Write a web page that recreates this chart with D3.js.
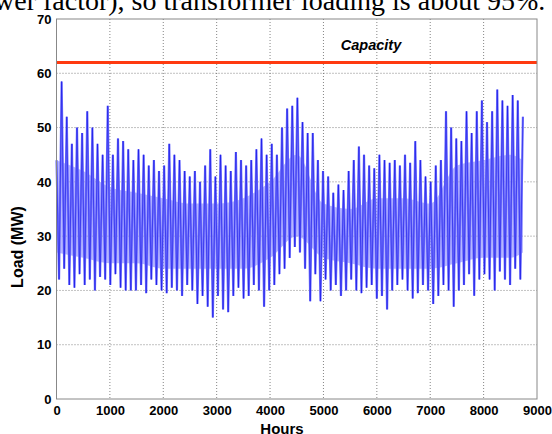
<!DOCTYPE html>
<html>
<head>
<meta charset="utf-8">
<script src="https://cdn.jsdelivr.net/npm/d3@7/dist/d3.min.js"></script>
<style>
  body { margin: 0; background: #fff; }
  svg text { font-family: "Liberation Sans", Arial, sans-serif; }
</style>
</head>
<body>
<svg id="chart" width="552" height="434"></svg>
<script>
// tick values
const xTicks = [0, 1000, 2000, 3000, 4000, 5000, 6000, 7000, 8000, 9000];
const yTicks = [0, 10, 20, 30, 40, 50, 60, 70];
const capacityMW = 62;

// load: a high every 96 h (starting hour 0),
// a low 48 h after each high
const peakMW = [
  44, 58.5, 52, 47, 50, 49, 53, 50, 47, 45, 54, 45, 48, 47.5, 46,
  44, 46, 45, 43, 44, 42, 43, 47, 45, 44, 42, 41, 42, 40,
  43, 46, 41, 45, 43, 42, 45.5, 44, 43,
  44, 46, 48, 45, 47, 45, 50, 53.5, 54, 55.5, 51, 49, 49, 44, 42, 41, 38, 39.5, 38.5, 42,
  44, 46.5, 45, 43, 42.5, 45, 44, 43.5, 44, 43, 45, 43.5, 47.5, 44,
  41, 40, 43, 44, 53, 50, 48, 47.5, 53, 49, 53, 55, 51, 53, 57, 55, 54, 56, 55, 52
];
const lowMW = [
  22, 24, 21, 20.5, 23, 21, 22, 20, 22.5, 22, 21, 23, 20.5, 20, 20,
  20, 21, 19.5, 22, 21, 20, 19.5, 20.5, 20, 19, 21, 20, 17.5, 19,
  17, 15, 19, 16.5, 16, 19, 20.5, 18.5, 19, 21, 20,
  17, 20, 21, 23, 24, 26, 28, 27, 24, 18, 23, 18, 22, 20, 21, 19, 20, 22,
  20, 19.5, 20.5, 21, 18.5, 19, 16.5, 20, 21, 22, 20, 18.5, 19.5, 21,
  20, 17.5, 19, 21, 20, 17, 20, 21, 23, 19, 22, 23, 22, 20, 23.5, 22, 21, 24, 22
];
const stepHours = 48;

// the dense daily band (where the daily swings overlap), read every 500 h
const bandHours  = [0, 500, 1000, 1500, 2000, 2500, 3000, 3500, 4000, 4500, 5000, 5500, 6000, 6500, 7000, 7500, 8000, 8500, 8736];
const bandTopMW  = [44, 42, 39, 38, 37, 36, 36, 37, 40, 45, 36, 35, 37, 37, 36, 43, 44, 45, 44];
const bandLowMW  = [27, 26, 25, 25, 24, 24, 24, 24, 26, 30, 26, 25, 24, 24, 24, 25, 26, 26, 27];

// interleave highs and lows into one series
const load = [];
peakMW.forEach((p, i) => {
  load.push(p);
  if (i < lowMW.length) load.push(lowMW[i]);
});

const svg = d3.select('#chart');
const plot = { left: 56.5, right: 537, top: 19, bottom: 399 };

const x = d3.scaleLinear().domain([0, 9000]).range([plot.left, plot.right]);
const y = d3.scaleLinear().domain([0, 70]).range([plot.bottom, plot.top]);

// cropped caption line above the figure
svg.append('text')
  .attr('x', -6)
  .attr('y', 9.5)
  .style('font-family', '"Liberation Serif", "Times New Roman", serif')
  .style('font-size', '28px')
  .text('wer factor), so transformer loading is about 95%.');

// grid
svg.append('g')
  .selectAll('line')
  .data(xTicks.slice(1, -1))
  .join('line')
  .attr('x1', d => x(d)).attr('x2', d => x(d))
  .attr('y1', plot.top).attr('y2', plot.bottom)
  .attr('stroke', '#666')
  .attr('stroke-width', 0.8)
  .attr('stroke-dasharray', '1,2');

svg.append('g')
  .selectAll('line')
  .data(yTicks.slice(1, -1))
  .join('line')
  .attr('x1', plot.left).attr('x2', plot.right)
  .attr('y1', d => y(d)).attr('y2', d => y(d))
  .attr('stroke', '#666')
  .attr('stroke-width', 0.8)
  .attr('stroke-dasharray', '1,2');

// dense band
const band = d3.area()
  .x((d, i) => x(bandHours[i]))
  .y0((d, i) => y(bandLowMW[i]))
  .y1(d => y(d))
  .curve(d3.curveMonotoneX);

svg.append('path')
  .datum(bandTopMW)
  .attr('d', band)
  .attr('fill', '#7a7aff')
  .attr('fill-opacity', 0.55);

// load trace: pale stroke under a thin dark one
const line = d3.line()
  .x((d, i) => x(i * stepHours))
  .y(d => y(d));

svg.append('path')
  .datum(load)
  .attr('d', line)
  .attr('fill', 'none')
  .attr('stroke', '#7474ff')
  .attr('stroke-width', 2.2)
  .attr('stroke-linejoin', 'bevel');

svg.append('path')
  .datum(load)
  .attr('d', line)
  .attr('fill', 'none')
  .attr('stroke', '#0000e0')
  .attr('stroke-opacity', 0.8)
  .attr('stroke-width', 0.6);

// capacity
svg.append('line')
  .attr('x1', plot.left).attr('x2', plot.right)
  .attr('y1', y(capacityMW)).attr('y2', y(capacityMW))
  .attr('stroke', '#ff3a10')
  .attr('stroke-width', 3);

svg.append('text')
  .attr('x', 371)
  .attr('y', 50)
  .attr('text-anchor', 'middle')
  .style('font-size', '14.5px')
  .style('font-weight', 'bold')
  .style('font-style', 'italic')
  .text('Capacity');

// frame
svg.append('rect')
  .attr('x', plot.left).attr('y', plot.top)
  .attr('width', plot.right - plot.left)
  .attr('height', plot.bottom - plot.top)
  .attr('fill', 'none')
  .attr('stroke', '#888')
  .attr('stroke-width', 1);

// axes
const xAxis = d3.axisBottom(x).tickValues(xTicks).tickFormat(d3.format('d'))
  .tickSize(0).tickPadding(7);
const yAxis = d3.axisLeft(y).tickValues(yTicks).tickSize(0).tickPadding(5);

const gx = svg.append('g')
  .attr('transform', `translate(0, ${plot.bottom})`)
  .call(xAxis);
const gy = svg.append('g')
  .attr('transform', `translate(${plot.left}, 0)`)
  .call(yAxis);

[gx, gy].forEach(g => {
  g.select('.domain').remove();
  g.selectAll('text')
    .attr('fill', '#000')
    .style('font-family', '"Liberation Sans", Arial, sans-serif')
    .style('font-size', '13px')
    .style('font-weight', 'bold');
});

svg.append('text')
  .attr('x', 282)
  .attr('y', 434)
  .attr('text-anchor', 'middle')
  .style('font-size', '15px')
  .style('font-weight', 'bold')
  .text('Hours');

svg.append('text')
  .attr('transform', 'translate(23, 247) rotate(-90)')
  .attr('text-anchor', 'middle')
  .style('font-size', '16px')
  .style('font-weight', 'bold')
  .text('Load (MW)');
</script>
</body>
</html>
